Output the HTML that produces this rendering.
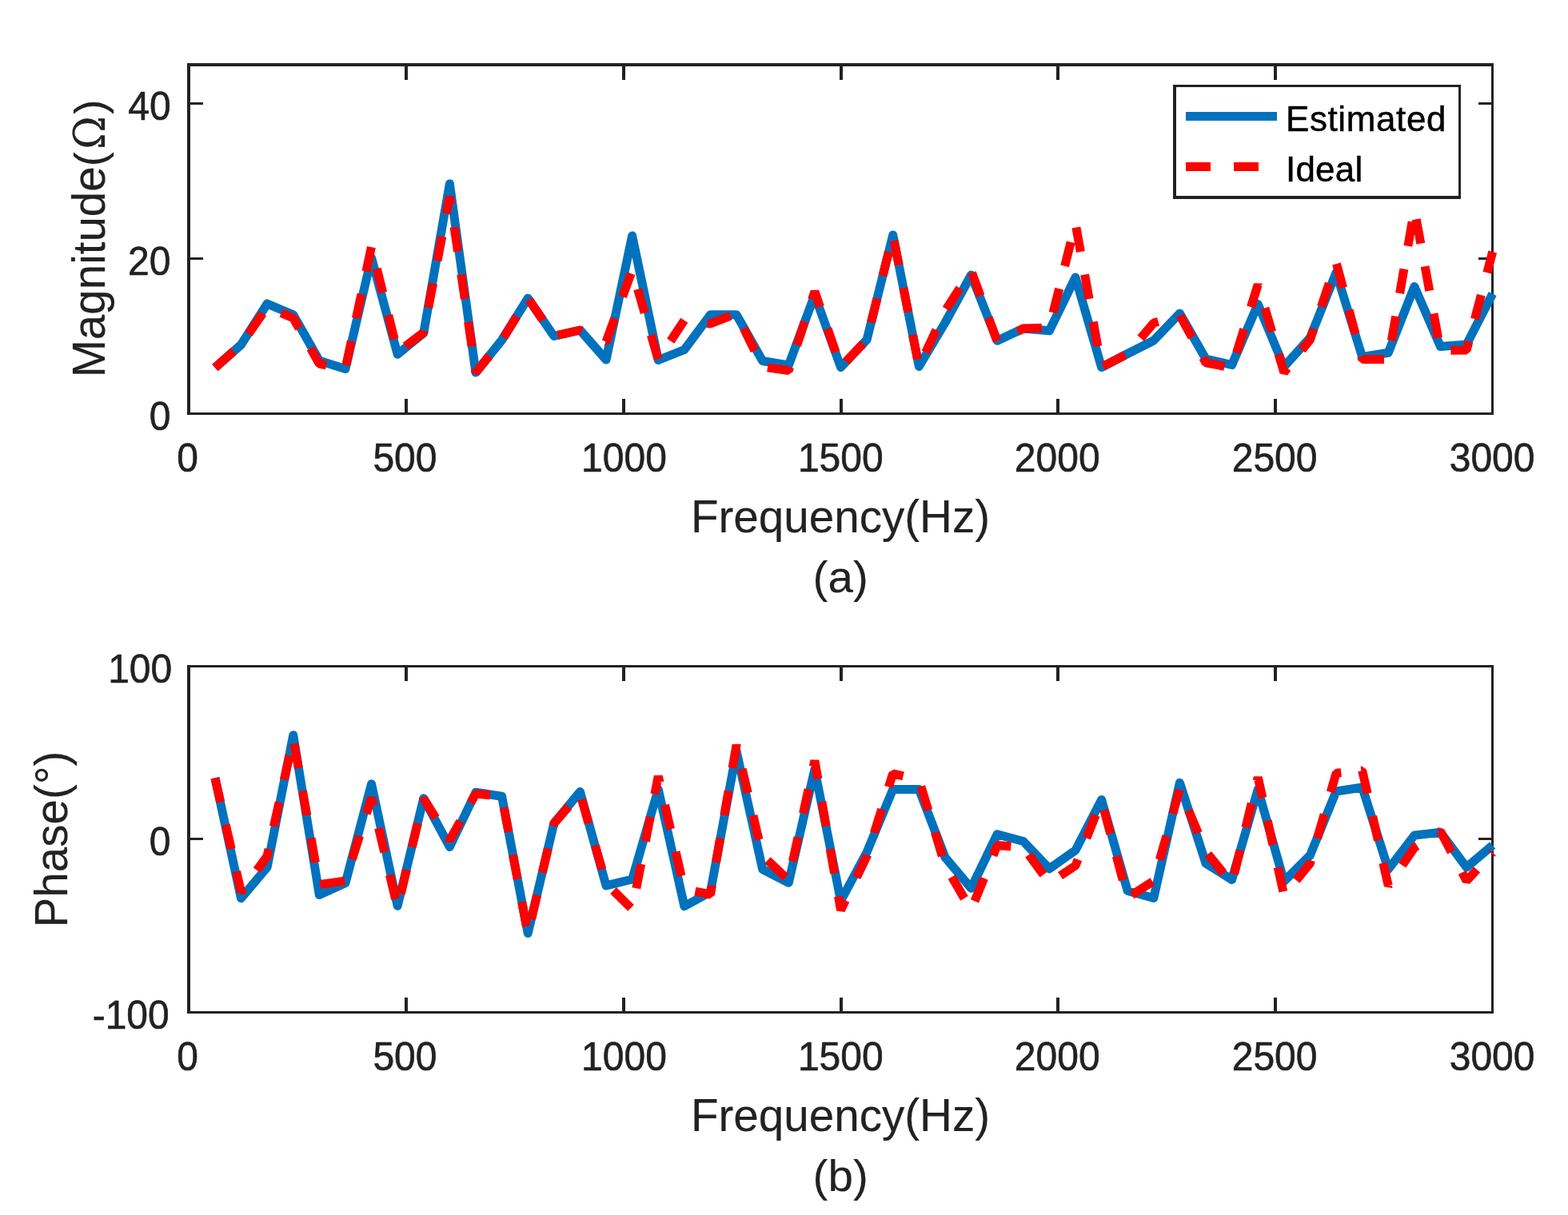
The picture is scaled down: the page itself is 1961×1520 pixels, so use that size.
<!DOCTYPE html>
<html lang="en">
<head>
<meta charset="utf-8">
<title>Estimated vs Ideal impedance: magnitude and phase</title>
<style>
html,body{margin:0;padding:0;background:#fff;}
body{width:1961px;height:1520px;overflow:hidden;position:relative;}
svg{position:absolute;left:0;top:0;display:block;}
text{font-family:'Liberation Sans', sans-serif;}
</style>
</head>
<body>
<svg width="1961" height="1520" viewBox="0 0 1961 1520">
<rect x="0" y="0" width="1961" height="1520" fill="#ffffff"/>
<defs>
<clipPath id="c1"><rect x="234.00" y="79.00" width="1646.50" height="440.50"/></clipPath>
<clipPath id="c2"><rect x="234.00" y="831.50" width="1646.50" height="437.00"/></clipPath>
</defs>
<g id="plot-a">
<g fill="#222222" shape-rendering="crispEdges">
<rect x="234" y="79" width="4" height="440"/>
<rect x="1865" y="79" width="3" height="440"/>
<rect x="234" y="79" width="1634" height="4"/>
<rect x="234" y="516" width="1634" height="3"/>
<rect x="506" y="499" width="4" height="17"/>
<rect x="506" y="83" width="4" height="17"/>
<rect x="778" y="499" width="4" height="17"/>
<rect x="778" y="83" width="4" height="17"/>
<rect x="1050" y="499" width="4" height="17"/>
<rect x="1050" y="83" width="4" height="17"/>
<rect x="1321" y="499" width="4" height="17"/>
<rect x="1321" y="83" width="4" height="17"/>
<rect x="1593" y="499" width="4" height="17"/>
<rect x="1593" y="83" width="4" height="17"/>
<rect x="238" y="322" width="16" height="3"/>
<rect x="1849" y="322" width="16" height="3"/>
<rect x="238" y="128" width="16" height="3"/>
<rect x="1849" y="128" width="16" height="3"/>
</g>
<g clip-path="url(#c1)" fill="none" stroke-linejoin="round"><polyline points="268.91,460.00 301.52,431.25 334.12,380.00 366.73,393.75 399.34,451.25 431.95,461.50 464.56,322.50 497.17,443.25 529.77,416.75 562.38,230.00 594.99,466.00 627.60,425.50 660.21,373.20 692.81,420.50 725.42,413.00 758.03,450.00 790.64,295.00 823.25,450.50 855.86,437.50 888.46,393.75 921.07,393.75 953.68,451.50 986.29,457.00 1018.90,369.00 1051.51,459.50 1084.11,425.00 1116.72,294.00 1149.33,458.50 1181.94,403.75 1214.55,344.00 1247.15,426.30 1279.76,411.00 1312.37,413.75 1344.98,347.00 1377.59,459.50 1410.20,442.50 1442.80,426.00 1475.41,392.00 1508.02,449.00 1540.63,456.50 1573.24,380.50 1605.84,458.75 1638.45,422.50 1671.06,341.00 1703.67,446.50 1736.28,441.25 1768.89,358.50 1801.49,433.50 1834.10,431.00 1866.71,367.50" stroke="#0072BD" stroke-width="11"/><polyline points="268.91,460.00 301.52,431.25 334.12,384.00 366.73,398.00 399.34,455.00 431.95,461.50 464.56,308.50 497.17,440.50 529.77,416.00 562.38,246.00 594.99,466.00 627.60,426.00 660.21,373.00 692.81,420.50 725.42,413.00 758.03,427.50 790.64,338.00 823.25,450.00 855.86,400.60 888.46,405.00 921.07,392.00 953.68,459.00 986.29,463.50 1018.90,364.60 1051.51,459.00 1084.11,425.00 1116.72,294.00 1149.33,458.50 1181.94,389.00 1214.55,338.50 1247.15,427.00 1279.76,411.00 1312.37,410.00 1344.98,279.60 1377.59,459.50 1410.20,442.50 1442.80,404.00 1475.41,394.00 1508.02,453.75 1540.63,460.00 1573.24,356.00 1605.84,466.00 1638.45,425.00 1671.06,328.50 1703.67,449.50 1736.28,449.50 1768.89,261.50 1801.49,438.50 1834.10,438.00 1866.71,315.00" stroke="#FF0000" stroke-width="11" stroke-linejoin="bevel" stroke-dasharray="31 29 31 29 31 29 31 29 31 29 31 29 31 29 31 29 31 29 31 29 31 29 31 29 31 29 31 29 31 29 31 29 31 29 31 29 31 29 31 33.5 31 29 31 29 31 29 31 29 31 29 31 29 31 29 31 29 31 29 31 29 31 29 31 29 31 29 31 29 31 29 31 29 31 29 31 29 31 29 31 29 31 29 31 29 31 29 31 29 31 29 31 29 31 29 31 29 31 29 31 29 31 29 31 29 31 29 31 29 31 29 31 29 31 29 31 29 31 29 31 29 31 29 31 29 31 29 31 29 31 29 31 29 31 29 31 29 31 29"/></g>
</g>
<g id="plot-b">
<g fill="#222222" shape-rendering="crispEdges">
<rect x="234" y="832" width="4" height="436"/>
<rect x="1865" y="832" width="3" height="436"/>
<rect x="234" y="832" width="1634" height="3"/>
<rect x="234" y="1265" width="1634" height="3"/>
<rect x="506" y="1248" width="4" height="17"/>
<rect x="506" y="835" width="4" height="17"/>
<rect x="778" y="1248" width="4" height="17"/>
<rect x="778" y="835" width="4" height="17"/>
<rect x="1050" y="1248" width="4" height="17"/>
<rect x="1050" y="835" width="4" height="17"/>
<rect x="1321" y="1248" width="4" height="17"/>
<rect x="1321" y="835" width="4" height="17"/>
<rect x="1593" y="1248" width="4" height="17"/>
<rect x="1593" y="835" width="4" height="17"/>
<rect x="238" y="1048" width="16" height="3"/>
<rect x="1849" y="1048" width="16" height="3"/>
</g>
<g clip-path="url(#c2)" fill="none" stroke-linejoin="round"><polyline points="268.91,973.25 301.52,1123.75 334.12,1085.00 366.73,919.75 399.34,1119.50 431.95,1104.75 464.56,980.75 497.17,1133.25 529.77,998.75 562.38,1059.50 594.99,991.25 627.60,996.25 660.21,1167.50 692.81,1030.00 725.42,990.50 758.03,1108.00 790.64,1100.00 823.25,987.50 855.86,1133.75 888.46,1116.00 921.07,940.00 953.68,1087.50 986.29,1104.25 1018.90,962.50 1051.51,1127.00 1084.11,1066.00 1116.72,987.50 1149.33,987.50 1181.94,1072.50 1214.55,1111.25 1247.15,1043.75 1279.76,1052.50 1312.37,1086.75 1344.98,1063.75 1377.59,1000.50 1410.20,1114.50 1442.80,1123.50 1475.41,979.25 1508.02,1080.00 1540.63,1100.50 1573.24,987.50 1605.84,1102.50 1638.45,1070.00 1671.06,990.00 1703.67,985.00 1736.28,1087.50 1768.89,1045.00 1801.49,1041.25 1834.10,1085.00 1866.71,1057.50" stroke="#0072BD" stroke-width="11"/><polyline points="268.91,973.25 301.52,1116.00 334.12,1071.00 366.73,924.00 399.34,1106.50 431.95,1102.00 464.56,998.00 497.17,1135.50 529.77,999.00 562.38,1051.00 594.99,993.00 627.60,996.25 660.21,1168.50 692.81,1030.00 725.42,993.00 758.03,1105.00 790.64,1137.50 823.25,971.00 855.86,1112.50 888.46,1119.00 921.07,932.00 953.68,1070.50 986.29,1101.00 1018.90,951.50 1051.51,1138.50 1084.11,1071.00 1116.72,967.75 1149.33,975.50 1181.94,1082.70 1214.55,1138.50 1247.15,1057.50 1279.76,1060.00 1312.37,1104.50 1344.98,1083.00 1377.59,1001.50 1410.20,1123.00 1442.80,1102.00 1475.41,987.50 1508.02,1065.00 1540.63,1105.50 1573.24,972.50 1605.84,1120.00 1638.45,1080.00 1671.06,967.25 1703.67,964.00 1736.28,1108.00 1768.89,1060.40 1801.49,1040.00 1834.10,1102.00 1866.71,1066.60" stroke="#FF0000" stroke-width="11" stroke-linejoin="bevel" stroke-dasharray="31 29 31 29 31 29 31 29 31 29 31 28 31 29 31 29 31 29 31 29 31 29 31 29 31 29 31 29 31 29 31 29 31 29 31 26.5 31 29 31 29 31 29 31 29 31 29 31 29 31 29 31 29 31 31 31 29 31 29 31 29 31 29 31 29 31 31 31 29 31 29 31 29 31 29 31 29 31 29 31 29 31 30.5 31 29 31 29 31 29 31 29 31 32 31 29 31 29 31 29 31 29 31 29 31 29 31 30.5 31 27 31 29 31 29 31 31.5 31 29 31 29 31 29 31 29 31 29 31 29 31 29 31 29 31 29 31 29 31 29 31 29 31 29 31 29 31 25 31 29 31 29 31 29 31 32.5 31 29 31 27 31 29"/></g>
</g>
<g id="ticklabels">
<text transform="translate(234.60,590.10) scale(1,1.05)" font-size="48" text-anchor="middle" fill="#222222" stroke="#222222" stroke-width="0.6" >0</text>
<text transform="translate(234.60,1339.10) scale(1,1.05)" font-size="48" text-anchor="middle" fill="#222222" stroke="#222222" stroke-width="0.6" >0</text>
<text transform="translate(506.44,590.10) scale(1,1.05)" font-size="48" text-anchor="middle" fill="#222222" stroke="#222222" stroke-width="0.6" >500</text>
<text transform="translate(506.44,1339.10) scale(1,1.05)" font-size="48" text-anchor="middle" fill="#222222" stroke="#222222" stroke-width="0.6" >500</text>
<text transform="translate(780.47,590.10) scale(1,1.05)" font-size="48" text-anchor="middle" fill="#222222" stroke="#222222" stroke-width="0.6" >1000</text>
<text transform="translate(780.47,1339.10) scale(1,1.05)" font-size="48" text-anchor="middle" fill="#222222" stroke="#222222" stroke-width="0.6" >1000</text>
<text transform="translate(1051.26,590.10) scale(1,1.05)" font-size="48" text-anchor="middle" fill="#222222" stroke="#222222" stroke-width="0.6" >1500</text>
<text transform="translate(1051.26,1339.10) scale(1,1.05)" font-size="48" text-anchor="middle" fill="#222222" stroke="#222222" stroke-width="0.6" >1500</text>
<text transform="translate(1322.24,590.10) scale(1,1.05)" font-size="48" text-anchor="middle" fill="#222222" stroke="#222222" stroke-width="0.6" >2000</text>
<text transform="translate(1322.24,1339.10) scale(1,1.05)" font-size="48" text-anchor="middle" fill="#222222" stroke="#222222" stroke-width="0.6" >2000</text>
<text transform="translate(1594.07,590.10) scale(1,1.05)" font-size="48" text-anchor="middle" fill="#222222" stroke="#222222" stroke-width="0.6" >2500</text>
<text transform="translate(1594.07,1339.10) scale(1,1.05)" font-size="48" text-anchor="middle" fill="#222222" stroke="#222222" stroke-width="0.6" >2500</text>
<text transform="translate(1866.11,590.10) scale(1,1.05)" font-size="48" text-anchor="middle" fill="#222222" stroke="#222222" stroke-width="0.6" >3000</text>
<text transform="translate(1866.11,1339.10) scale(1,1.05)" font-size="48" text-anchor="middle" fill="#222222" stroke="#222222" stroke-width="0.6" >3000</text>
<text transform="translate(213.70,150.10) scale(1,1.05)" font-size="48" text-anchor="end" fill="#222222" stroke="#222222" stroke-width="0.6" >40</text>
<text transform="translate(213.50,344.00) scale(1,1.05)" font-size="48" text-anchor="end" fill="#222222" stroke="#222222" stroke-width="0.6" >20</text>
<text transform="translate(213.50,538.00) scale(1,1.05)" font-size="48" text-anchor="end" fill="#222222" stroke="#222222" stroke-width="0.6" >0</text>
<text transform="translate(215.20,853.80) scale(1,1.05)" font-size="48" text-anchor="end" fill="#222222" stroke="#222222" stroke-width="0.6" >100</text>
<text transform="translate(213.50,1069.90) scale(1,1.05)" font-size="48" text-anchor="end" fill="#222222" stroke="#222222" stroke-width="0.6" >0</text>
<text transform="translate(211.70,1286.80) scale(1,1.05)" font-size="48" text-anchor="end" fill="#222222" stroke="#222222" stroke-width="0.6" >-100</text>
</g>
<g id="labels">
<text transform="translate(1051.00,665.70) scale(1,1.02)" font-size="56.6" text-anchor="middle" fill="#222222" stroke="#222222" stroke-width="0.15" >Frequency(Hz)</text>
<text transform="translate(1051.20,740.60) scale(1,0.97)" font-size="56.6" text-anchor="middle" fill="#222222" stroke="#222222" stroke-width="0.15" >(a)</text>
<text transform="translate(1051.00,1414.70) scale(1,1.02)" font-size="56.6" text-anchor="middle" fill="#222222" stroke="#222222" stroke-width="0.15" >Frequency(Hz)</text>
<text transform="translate(1051.20,1489.60) scale(1,0.97)" font-size="56.6" text-anchor="middle" fill="#222222" stroke="#222222" stroke-width="0.15" >(b)</text>
<text transform="translate(131,472.2) rotate(-90)" fill="#222222" stroke="#222222" stroke-width="0.15" font-size="56.5" x="0" y="0">Magnitude<tspan x="263.9" font-size="54.2">(</tspan><tspan x="285.4" style="font-family:'DejaVu Serif','Liberation Serif',serif" font-size="54.5" textLength="41.5" lengthAdjust="spacingAndGlyphs">Ω</tspan><tspan x="329.4" font-size="54.2">)</tspan></text>
<text transform="translate(84,1050) rotate(-90) scale(1,1.02)" font-size="56.6" text-anchor="middle" fill="#222222" stroke="#222222" stroke-width="0.15">Phase(°)</text>
</g>
<g id="legend">
<rect x="1467" y="106" width="360" height="143" fill="#ffffff"/>
<g fill="#222222" shape-rendering="crispEdges"><rect x="1467" y="106" width="4" height="143"/><rect x="1824" y="106" width="3" height="143"/><rect x="1467" y="106" width="360" height="3"/><rect x="1467" y="245" width="360" height="4"/></g>
<g shape-rendering="crispEdges"><rect x="1483" y="140" width="114" height="11" fill="#0072BD"/><rect x="1483" y="203" width="31" height="11" fill="#FF0000"/><rect x="1543" y="203" width="31" height="11" fill="#FF0000"/></g>
<text transform="translate(1608.00,163.90) scale(1,1)" font-size="44" text-anchor="start" fill="#000000" stroke="#000000" stroke-width="0.5" letter-spacing="0.6">Estimated</text>
<text transform="translate(1608.00,226.80) scale(1,1)" font-size="44" text-anchor="start" fill="#000000" stroke="#000000" stroke-width="0.5" letter-spacing="0.2">Ideal</text>
</g>
</svg>
</body>
</html>
